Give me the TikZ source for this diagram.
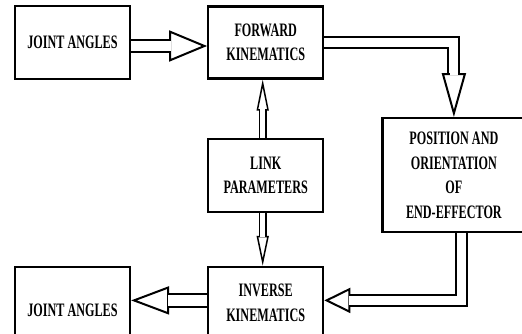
\documentclass[tikz,border=0pt]{standalone}
\usepackage{fontspec}
\newfontfamily\boxfont[FakeStretch=0.64]{Liberation Serif}
\usetikzlibrary{positioning,arrows.meta}

\begin{document}
\begin{tikzpicture}[
  node distance = 58pt and 76pt,
  block/.style  = {rectangle, draw=black, line width=2.2pt, fill=white,
                   align=center, font=\boxfont\bfseries\fontsize{19}{24.5}\selectfont,
                   minimum width=115pt, minimum height=73pt, inner sep=2pt},
  % double line + open head, the inner white is redrawn over the head's base
  hollow/.style n args = {4}{draw=black, double=white, line width=#4, double distance=#1,
                   -{Triangle[open, length=#2, width=#3, line width=#4]},
                   postaction={draw=white, line width=#1-0.3pt, -, shorten >=#2-1.5pt}}
]

\useasboundingbox (0,0) rectangle (522pt,-334pt);

\node[block] (jaIn) at (72.5pt,-42.5pt) {JOINT ANGLES};
\node[block, right=of jaIn, minimum height=72pt] (fk) {FORWARD\\KINEMATICS};
\node[block, below=of fk] (lp) {LINK\\PARAMETERS};
\node[block, right=57pt of lp, minimum width=143pt, minimum height=114pt] (pos)
      {POSITION AND\\ORIENTATION\\OF\\END-EFFECTOR};
\node[block, below=53pt of lp.south, anchor=north, minimum height=72pt] (ik)
      {INVERSE\\KINEMATICS};
\node[block, left=76pt of ik.north west, anchor=north east, minimum height=86pt] (jaOut)
      {JOINT ANGLES};

\draw[hollow={10pt}{38pt}{31pt}{2pt}]
  ([yshift=-3.5pt]jaIn.east) -- ([yshift=-3.5pt]jaIn.east -| fk.west);
\draw[hollow={9pt}{44pt}{24pt}{2pt}]
  (fk.east) -| (pos.north);
\draw[hollow={5pt}{31pt}{12pt}{1.5pt}]
  ([xshift=-3pt]lp.north) -- ([xshift=-3pt]fk.south);
\draw[hollow={5pt}{30pt}{12pt}{1.5pt}]
  ([xshift=-3pt]lp.south) -- ([xshift=-3pt]ik.north);
\draw[hollow={9pt}{26pt}{25pt}{2pt}]
  ([xshift=8pt]pos.south) |- ([yshift=2.5pt]ik.east);
\draw[hollow={11pt}{38pt}{28pt}{2pt}]
  ([yshift=2.5pt]ik.west) -- ([yshift=2.5pt]ik.west -| jaOut.east);

\end{tikzpicture}
\end{document}
